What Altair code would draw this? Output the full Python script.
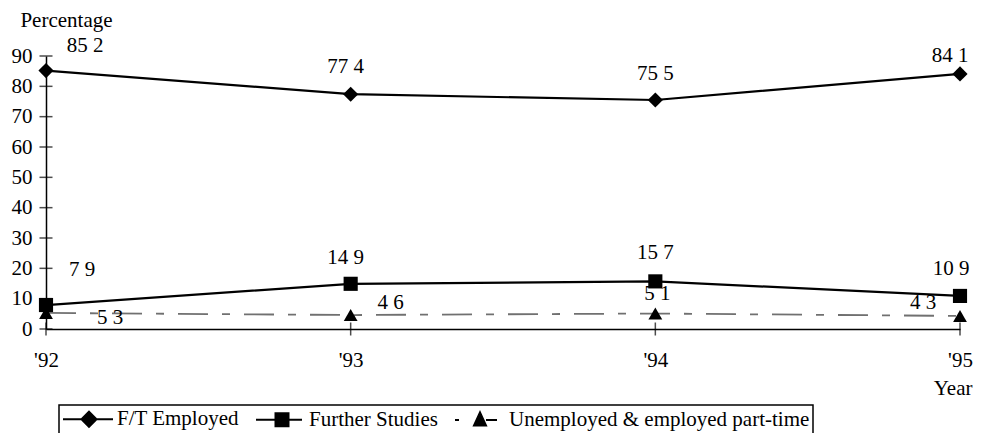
import altair as alt
import pandas as pd

# ---- data ----
years = [1992, 1993, 1994, 1995]
series_names = ["F/T Employed", "Further Studies", "Unemployed & employed part-time"]
ft_employed = [85.2, 77.4, 75.5, 84.1]
further_studies = [7.9, 14.9, 15.7, 10.9]
unemployed_pt = [5.3, 4.6, 5.1, 4.3]
y_tick_values = [0, 10, 20, 30, 40, 50, 60, 70, 80, 90]

series_values = [ft_employed, further_studies, unemployed_pt]

rows = []
for name, vals in zip(series_names, series_values):
    for yr, v in zip(years, vals):
        rows.append({"series": name, "year": yr, "value": v,
                     "label": f"{v:.1f}".replace(".", " ")})
df = pd.DataFrame(rows)

# ---- styling ----
FONT = "Liberation Serif"
FS = 21
W, H = 914, 273

# label offsets (pixels) per series / year
label_offsets = [
    [(39, -25), (-5, -27), (0, -26), (-10, -18)],
    [(36, -35), (-5, -26), (0, -28), (-9, -27)],
    [(64, 5), (40, -12), (2, -20), (-37, -13)],
]
point_shapes = ["diamond", "square", "triangle-up"]
point_sizes = [230, 200, 190]
legend_paths = [
    "M-2.5,0H2.5M0.1,-0.75L0.85,0L0.1,0.75L-0.65,0Z",
    "M-2.4,0H2.2M-0.45,-0.65H0.85V0.65H-0.45Z",
    "M-2.5,0H-2.1M0,-0.75L0.6,0.55L-0.6,0.55ZM0.6,0H1.7",
]

xscale = alt.Scale(domain=[1992, 1995], nice=False, zero=False)
yscale = alt.Scale(domain=[0, 90], nice=False, zero=True)

xaxis = alt.Axis(
    values=years, ticks=False, grid=False, labelOverlap=False, labelFlush=False,
    labelExpr="\"'\" + substring(toString(datum.value), 2, 4)",
    labelFont=FONT, labelFontSize=FS, labelColor="black", labelPadding=20,
    domainColor="black", domainWidth=1.5,
    title="Year", titleFont=FONT, titleFontSize=FS, titleFontWeight="normal",
    titleColor="black", titleX=926, titleY=59, titleAlign="right",
    titleBaseline="middle", titleAnchor="start",
)
yaxis = alt.Axis(
    values=y_tick_values, ticks=False, grid=False, labelOverlap=False,
    labelFont=FONT, labelFontSize=FS, labelColor="black", labelPadding=14,
    labelBaseline="middle",
    domainColor="black", domainWidth=1.5,
    title="Percentage", titleFont=FONT, titleFontSize=FS, titleFontWeight="normal",
    titleColor="black", titleAngle=0, titleX=20, titleY=-36, titleAlign="center",
    titleBaseline="middle", titleAnchor="start",
)

X = alt.X("year:Q", scale=xscale, axis=xaxis)
Y = alt.Y("value:Q", scale=yscale, axis=yaxis)

base = alt.Chart(df)
layers = []

# lines
line_styles = [
    dict(color="black", strokeWidth=2.2),
    dict(color="black", strokeWidth=2.2),
    dict(color="#707070", strokeWidth=1.8, strokeDash=[30, 14, 8, 14]),
]
for name, st in zip(series_names, line_styles):
    layers.append(
        base.transform_filter(alt.datum.series == name).mark_line(**st).encode(x=X, y=Y)
    )

# axis cross ticks (positions come from the axis tick values)
ytick_df = pd.DataFrame({"value": y_tick_values, "year": years[0]})
layers.append(
    alt.Chart(ytick_df).mark_tick(color="black", size=13, thickness=1.5,
                                  orient="horizontal").encode(x=X, y=Y)
)
xtick_df = pd.DataFrame({"year": years, "value": y_tick_values[0]})
layers.append(
    alt.Chart(xtick_df).mark_tick(color="black", size=13, thickness=1.5,
                                  orient="vertical").encode(x=X, y=Y)
)

# points
for name, shp, sz in zip(series_names, point_shapes, point_sizes):
    layers.append(
        base.transform_filter(alt.datum.series == name)
        .mark_point(shape=shp, size=sz, filled=True, color="black", opacity=1)
        .encode(x=X, y=Y)
    )

# data labels
for si, name in enumerate(series_names):
    for yi, yr in enumerate(years):
        dx, dy = label_offsets[si][yi]
        layers.append(
            base.transform_filter((alt.datum.series == name) & (alt.datum.year == yr))
            .mark_text(font=FONT, fontSize=FS, color="black", dx=dx, dy=dy,
                       align="center", baseline="middle")
            .encode(x=X, y=Y, text="label:N")
        )

# legend layer (no visible marks, only the legend)
legend_layer = (
    base.transform_filter("false")
    .mark_point(filled=False, color="black", fill="black", strokeWidth=2, opacity=1)
    .encode(
        x=X, y=Y,
        shape=alt.Shape(
            "series:N",
            scale=alt.Scale(domain=series_names, range=legend_paths),
            legend=alt.Legend(
                title=None, orient="none", legendX=13, legendY=349,
                direction="horizontal", columns=3,
                symbolSize=400, symbolOffset=15, labelOffset=18,
                symbolStrokeWidth=2, symbolOpacity=1,
                labelFont=FONT, labelFontSize=FS, labelColor="black",
                labelLimit=0, columnPadding=13, padding=3,
                strokeColor="black",
            ),
        ),
    )
)
layers.append(legend_layer)

chart = (
    alt.layer(*layers)
    .resolve_scale(shape="independent")
    .properties(
        width=W, height=H,
        autosize=alt.AutoSizeParams(type="none"),
        padding={"left": 38, "top": 48, "right": 13, "bottom": 104},
        background="white",
    )
    .configure_view(stroke=None)
    .configure_legend(strokeWidth=1.5)
)

chart.save("out.html", embed_options={"renderer": "svg", "actions": False})
